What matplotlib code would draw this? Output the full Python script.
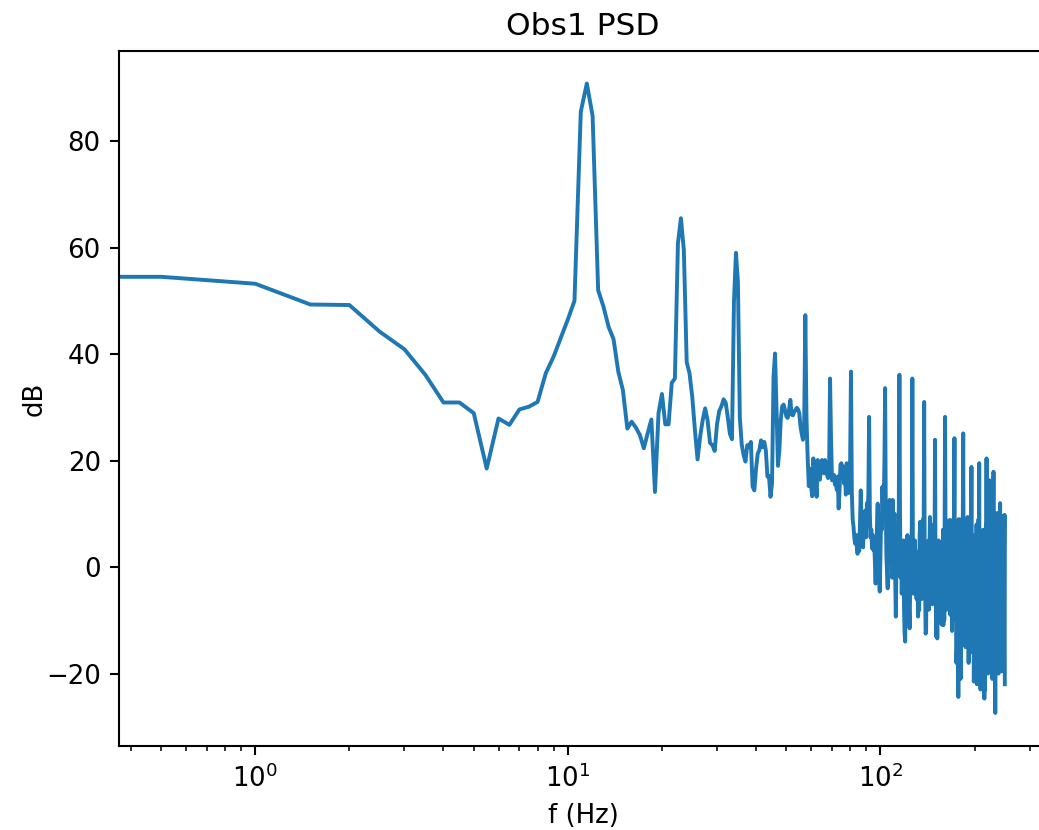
# Plot Obs1 power spectral density

import numpy as np
from matplotlib import pyplot as plt

# Frequency bin spacing (Hz), bins start at 0 Hz
BIN_WIDTH = 0.5

# PSD values in dB, one list per frequency band
db_0_20 = [
    54.5, 54.5, 53.2, 49.3, 49.2, 44.2, 40.9, 36.1, 30.9, 30.9,
    28.9, 18.5, 27.9, 26.7, 29.6, 30.1, 31.0, 36.4, 39.5, 43.1,
    46.5, 50.0, 85.5, 90.8, 84.7, 52.0, 48.9, 45.1, 42.8, 36.7,
    33.2, 26.0, 27.3, 26.2, 24.8, 22.3, 25.1, 27.7, 14.1, 28.9,
]
db_20_50 = [
    32.5, 26.8, 26.8, 34.6, 35.4, 60.8, 65.5, 59.5, 38.5, 36.4,
    32.0, 25.7, 20.2, 24.5, 27.6, 29.8, 27.5, 23.3, 22.9, 21.8,
    26.8, 29.3, 30.2, 31.5, 30.8, 28.0, 25.0, 24.0, 50.0, 59.0,
    53.5, 28.0, 23.0, 21.0, 19.8, 22.9, 22.6, 23.5, 15.1, 14.4,
    18.5, 21.3, 22.0, 23.8, 22.5, 23.5, 21.9, 17.0, 17.1, 13.2,
    15.8, 35.7, 40.1, 30.0, 19.0, 22.0, 27.8, 30.2, 30.5, 29.5,
]
db_50_80 = [
    28.3, 28.0, 29.5, 31.4, 28.6, 28.5, 29.2, 29.5, 29.9, 29.6,
    28.9, 26.4, 25.0, 23.9, 26.0, 47.3, 28.0, 20.6, 15.2, 18.5,
    15.2, 13.3, 20.4, 17.6, 16.7, 13.2, 20.1, 16.7, 16.4, 18.2,
    20.1, 18.8, 17.6, 20.1, 18.8, 17.3, 16.7, 17.6, 35.4, 24.0,
    16.3, 17.0, 17.3, 15.5, 16.3, 14.5, 17.0, 11.0, 14.5, 19.2,
    19.5, 17.0, 18.9, 15.7, 17.9, 13.6, 19.5, 17.0, 13.9, 18.0,
]
db_80_100 = [
    20.0, 36.7, 14.0, 9.0, 7.6, 5.5, 4.4, 6.0, 4.0, 2.5,
    6.0, 3.0, 8.0, 14.4, 9.0, 5.0, 3.7, 8.0, 6.0, 10.6,
    5.6, 12.0, 9.0, 14.0, 28.2, 10.0, 5.6, 7.0, 3.5, 6.0,
    3.2, 5.0, 1.0, -3.1, 2.0, 8.0, 11.9, 3.0, -2.0, -4.6,
]
db_100_120 = [
    2.0, 10.0, 7.0, 15.1, 9.0, 12.0, 20.0, 33.6, 12.0, 2.0,
    -1.0, -4.0, 5.0, 8.0, 12.6, 3.0, 1.9, 6.0, -2.0, 12.6,
    4.0, 9.0, 10.0, -2.0, -9.3, 0.0, 6.0, 3.0, 1.0, 12.0,
    36.1, 10.0, -2.0, 4.0, -5.0, 2.0, -3.0, 5.0, -8.0, -12.5,
]
db_120_140 = [
    -14.0, -2.0, 3.2, -4.0, 6.0, -6.0, 2.0, -8.0, -11.5, -3.0,
    5.0, -2.0, 8.0, 35.4, 4.0, -5.0, 2.0, -3.7, 5.0, -3.4,
    3.0, -6.0, 1.0, -4.0, -9.3, 2.0, -8.1, 6.0, 8.5, -2.0,
    4.0, -6.0, 3.0, -1.0, 9.0, 6.0, 31.0, 5.0, -4.0, -12.5,
]
db_140_160 = [
    -12.0, 0.0, -6.0, 4.0, -3.0, 5.0, -8.0, 2.0, 9.4, -4.0,
    7.0, -2.0, 3.0, -7.0, 1.0, -5.0, 8.0, -2.0, 4.0, 23.9,
    2.0, -8.0, -13.1, -4.0, -13.4, 0.0, -6.0, 5.0, -2.0, 4.0,
    1.9, -7.0, 3.0, -4.0, -10.8, 2.0, -3.0, 7.0, -10.9, 4.0,
]
db_160_180 = [
    -10.0, 9.0, 28.2, 6.0, -4.0, 3.0, -8.0, 5.0, -3.0, 2.0,
    -6.0, 6.0, 8.8, -2.0, 4.0, -9.0, 8.8, -5.0, 3.0, -12.0,
    5.0, -3.0, 2.0, -8.0, 9.0, 24.2, -4.0, 6.0, -10.0, -2.0,
    -18.0, -15.0, 4.0, -6.0, 8.0, -24.4, 9.0, -8.0, 2.0, -15.0,
]
db_180_200 = [
    5.0, -21.0, 3.0, -6.0, 9.0, -4.0, 6.0, 10.0, 25.1, 2.0,
    -9.0, 4.0, -12.0, 6.0, -15.0, -3.0, -15.0, 5.0, -6.0, 8.0,
    9.4, -10.0, 2.0, -18.0, 5.0, -8.0, 7.0, -12.0, 3.0, -5.0,
    8.0, 18.8, -2.0, 6.0, -16.0, 4.0, -10.0, 2.0, -21.5, 5.0,
]
db_200_220 = [
    -8.0, 3.0, 6.0, -14.0, 4.0, -6.0, 8.0, -22.0, 2.0, -12.0,
    6.0, -4.0, 9.0, 3.0, 19.5, -5.0, 5.0, -14.0, -23.0, 2.0,
    -8.0, 6.0, -17.0, 4.0, 1.9, -10.0, 7.0, -6.0, 3.0, -18.0,
    -24.7, 5.0, -23.1, 2.0, -9.0, 8.0, -2.0, 20.4, -4.0, 6.0,
]
db_220_250 = [
    -12.0, 3.0, -20.0, 8.0, -6.0, 10.0, 16.3, -8.0, 4.0, -15.0,
    6.0, -10.0, 2.0, -18.0, 7.0, -5.0, -21.0, 3.0, -12.0, 9.0,
    17.9, -6.0, -15.0, 4.0, -20.0, 2.0, -27.4, 5.0, -10.0, 8.0,
    10.1, -8.0, 3.0, -16.0, 6.0, -12.0, 2.0, -20.0, 10.2, -4.0,
    5.0, -14.0, 7.8, 12.0, -6.0, 3.0, -17.0, 6.0, -19.6, 2.0,
    9.6, -10.0, 4.0, -14.0, -18.9, 5.0, -8.0, -15.0, 3.0, 9.8,
    -22.0,
]

psd_db = np.array(
    db_0_20 + db_20_50 + db_50_80 + db_80_100 + db_100_120 + db_120_140
    + db_140_160 + db_160_180 + db_180_200 + db_200_220 + db_220_250
)
freqs = np.arange(len(psd_db)) * BIN_WIDTH

# Format plot (reference is drawn at 1.25x the usual sizes)
SCALE = 1.25
plt.rcParams["font.family"] = "DejaVu Sans"
plt.rcParams["font.size"] = 10 * SCALE
plt.rcParams["axes.linewidth"] = 0.8 * SCALE
plt.rcParams["axes.titlepad"] = 6 * SCALE
plt.rcParams["axes.labelpad"] = 4 * SCALE
for axis in ("xtick", "ytick"):
    plt.rcParams[f"{axis}.major.size"] = 3.5 * SCALE
    plt.rcParams[f"{axis}.minor.size"] = 2 * SCALE
    plt.rcParams[f"{axis}.major.width"] = 0.8 * SCALE
    plt.rcParams[f"{axis}.minor.width"] = 0.6 * SCALE
    plt.rcParams[f"{axis}.major.pad"] = 3.5 * SCALE
    plt.rcParams[f"{axis}.minor.pad"] = 3.4 * SCALE

# Create figure (axes runs slightly past the right edge, as in the reference)
fig = plt.figure(figsize=(1039 / 150, 830 / 150), dpi=150)
ax = fig.add_axes([119 / 1039, 84 / 830, 928 / 1039, 695 / 830])

# Plot data
ax.plot(freqs, psd_db, color="#1f77b4", linewidth=1.5 * SCALE)
ax.set_xscale("log")
ax.set_ylim(-33.6, 96.9)

# Create title and axis labels
ax.set_title("Obs1 PSD", fontsize=12 * SCALE)
ax.set_xlabel("f (Hz)")
ax.set_ylabel("dB", labelpad=-1)

# Save plot
fig.savefig("out.png", dpi=150)
plt.close(fig)
